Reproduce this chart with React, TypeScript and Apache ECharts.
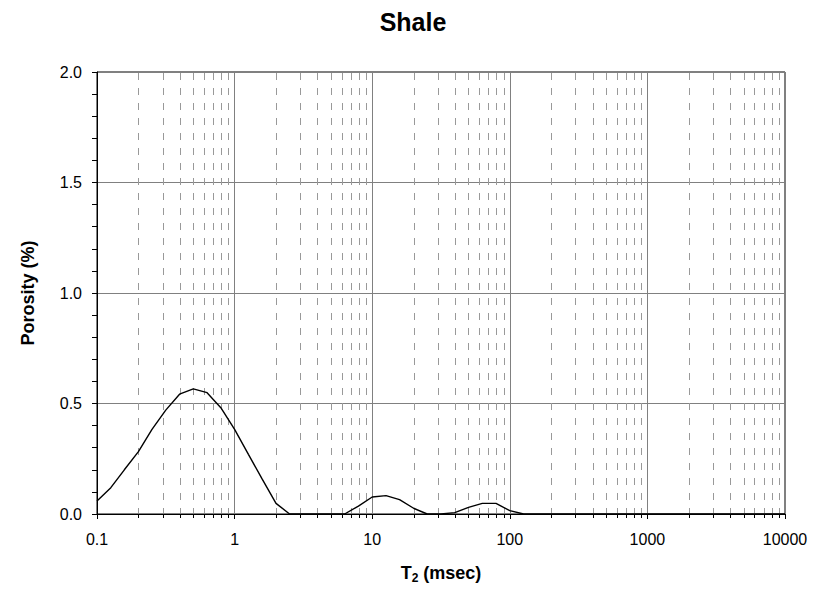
import React, { useEffect, useRef } from "react";
import * as echarts from "echarts";

const TITLE = "Shale";
const X_TICKS = [0.1, 1, 10, 100, 1000, 10000];
const Y_TICKS = [0, 0.5, 1.0, 1.5, 2.0];

const T2 = [
  0.1, 0.126, 0.158, 0.2, 0.251, 0.316, 0.398, 0.501, 0.631, 0.794,
  1, 1.26, 1.58, 2, 2.51, 3.16, 3.98, 5.01, 6.31, 7.94,
  10, 12.6, 15.8, 20, 25.1, 31.6, 39.8, 50.1, 63.1, 79.4,
  100, 126, 158, 200, 251, 316, 398, 501, 631, 794,
  1000, 1260, 1580, 2000, 2510, 3160, 3980, 5010, 6310, 7940,
  10000,
];
const POROSITY = [
  0.059, 0.119, 0.2, 0.282, 0.383, 0.47, 0.542, 0.566, 0.549, 0.481,
  0.383, 0.27, 0.16, 0.048, 0, 0, 0, 0, 0, 0.036,
  0.077, 0.083, 0.065, 0.026, 0, 0, 0.006, 0.03, 0.048, 0.048,
  0.015, 0, 0, 0, 0, 0, 0, 0, 0, 0,
  0, 0, 0, 0, 0, 0, 0, 0, 0, 0,
  0,
];

const DECADES = [0.1, 1, 10, 100, 1000];
const MINOR_MULTS = [2, 3, 4, 5, 6, 7, 8, 9];
const MINOR_X: number[] = [];
DECADES.forEach((d) => MINOR_MULTS.forEach((m) => MINOR_X.push(+(d * m).toPrecision(3))));

const FONT = "'Liberation Sans', Arial, sans-serif";

export default function App() {
  const ref = useRef<HTMLDivElement>(null);
  useEffect(() => {
    if (!ref.current) return;
    const chart = echarts.init(ref.current, undefined, { renderer: "svg" });
    chart.setOption({
      animation: false,
      backgroundColor: "#fff",
      textStyle: { fontFamily: FONT },
      title: {
        text: TITLE,
        left: "center",
        top: 4,
        textStyle: { fontFamily: FONT, fontSize: 25, fontWeight: "bold", color: "#000" },
      },
      grid: {
        left: 97,
        right: 41,
        top: 72,
        bottom: 79,
        show: true,
        borderColor: "#000",
        borderWidth: 1,
        backgroundColor: "transparent",
      },
      xAxis: {
        type: "log",
        logBase: 10,
        min: 0.1,
        max: 10000,
        name: "{b|T}{s|2}{b| (msec)}",
        nameLocation: "middle",
        nameGap: 48,
        nameTextStyle: {
          rich: {
            b: { fontFamily: FONT, fontSize: 18, fontWeight: "bold", color: "#000", lineHeight: 22 },
            s: { fontFamily: FONT, fontSize: 12, fontWeight: "bold", color: "#000", verticalAlign: "bottom" },
          },
        },
        axisLine: { lineStyle: { color: "#000", width: 1 } },
        axisTick: { show: true, length: 5, lineStyle: { color: "#000" } },
        axisLabel: {
          color: "#000",
          fontSize: 16,
          fontFamily: FONT,
          margin: 17,
          formatter: (v: number) => {
            const found = X_TICKS.find((t) => Math.abs(Math.log10(t) - Math.log10(v)) < 1e-6);
            return found !== undefined ? String(found) : "";
          },
        },
        splitLine: { show: true, lineStyle: { color: "#808080", width: 1 } },
        minorTick: { show: false },
      },
      yAxis: {
        type: "value",
        min: 0,
        max: 2,
        interval: 0.5,
        name: "Porosity (%)",
        nameLocation: "middle",
        nameGap: 60,
        nameTextStyle: { fontFamily: FONT, fontSize: 18, fontWeight: "bold", color: "#000" },
        axisLine: { show: true, lineStyle: { color: "#000", width: 1 } },
        axisTick: { show: true, length: 5, lineStyle: { color: "#000" } },
        minorTick: { show: true, splitNumber: 5, length: 5, lineStyle: { color: "#000" } },
        axisLabel: {
          color: "#000",
          fontSize: 16,
          fontFamily: FONT,
          margin: 15,
          formatter: (v: number) => (Y_TICKS.includes(v) ? v.toFixed(1) : ""),
        },
        splitLine: { show: true, lineStyle: { color: "#808080", width: 1 } },
      },
      series: [
        {
          type: "custom",
          silent: true,
          clip: false,
          z: 1,
          data: MINOR_X.map((x) => [x]),
          encode: { x: 0 },
          renderItem: (_params: any, api: any) => {
            const x = api.value(0);
            const top = api.coord([x, 2]);
            const bot = api.coord([x, 0]);
            const px = Math.round(bot[0]) + 0.5;
            return {
              type: "group",
              children: [
                {
                  type: "line",
                  shape: { x1: px, y1: top[1] + 1, x2: px, y2: bot[1] - 1 },
                  style: { stroke: "#999", lineWidth: 1, lineDash: [7, 8] },
                },
                {
                  type: "line",
                  shape: { x1: px, y1: bot[1], x2: px, y2: bot[1] + 4 },
                  style: { stroke: "#000", lineWidth: 1 },
                },
              ],
            };
          },
        },
        {
          type: "line",
          z: 3,
          data: T2.map((t, i) => [t, POROSITY[i]]),
          showSymbol: false,
          symbol: "none",
          lineStyle: { color: "#000", width: 1.4 },
        },
      ],
    });
    return () => chart.dispose();
  }, []);
  return <div ref={ref} style={{ width: 826, height: 593, position: "absolute", left: 0, top: 0 }} />;
}
